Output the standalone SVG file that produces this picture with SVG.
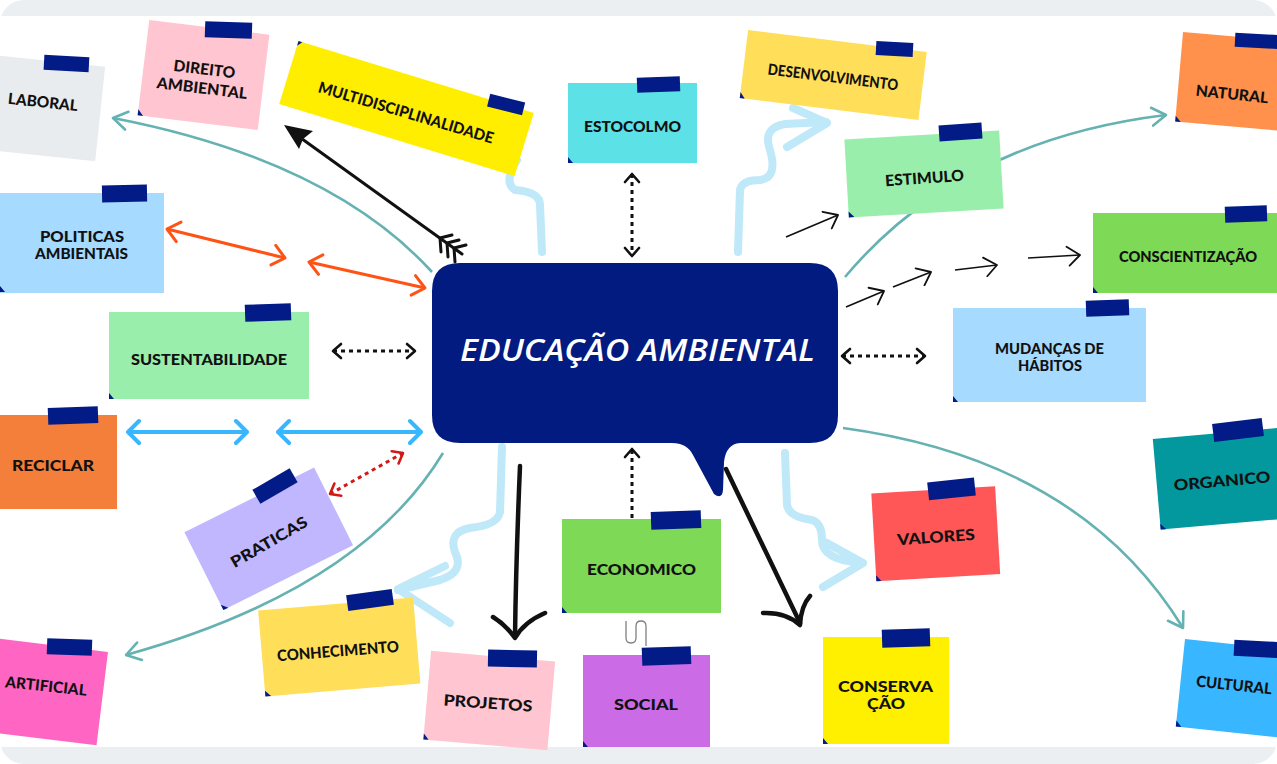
<svg xmlns="http://www.w3.org/2000/svg" width="1277" height="764" viewBox="0 0 1277 764">
<style>
.lbl{font-family:"Lato","Liberation Sans",sans-serif;font-weight:900;font-size:15.5px;fill:#111;text-anchor:middle}
.sm{font-size:14.5px}
.title{font-family:"Open Sans","Liberation Sans",sans-serif;font-style:italic;font-weight:600;font-size:31px;fill:#fff;text-anchor:middle}
.tape{fill:#031B87}
.corner{fill:#031B87}
.teal{fill:none;stroke:#66B2B2;stroke-width:2.6;marker-end:url(#m-teal)}
.orange{fill:none;stroke:#FF5316;stroke-width:3;marker-start:url(#m-or);marker-end:url(#m-or)}
.blue{fill:none;stroke:#38B6FF;stroke-width:4;marker-start:url(#m-bl);marker-end:url(#m-bl)}
.dot{fill:none;stroke:#111;stroke-width:3;stroke-dasharray:4 4}
.reddot{fill:none;stroke:#D41818;stroke-width:3;stroke-dasharray:4 4;marker-start:url(#m-red);marker-end:url(#m-red)}
.thin{fill:none;stroke:#111;stroke-width:1.7;marker-end:url(#m-thin)}
.thick{fill:none;stroke:#111;stroke-width:4.5;stroke-linecap:round;stroke-linejoin:round}
.sq{fill:none;stroke:#BFE8F9;stroke-width:8;stroke-linecap:round;stroke-linejoin:round}
</style>
<defs>
<marker id="m-teal" viewBox="-16 -11 18 22" refX="0" refY="0" markerWidth="18" markerHeight="22" markerUnits="userSpaceOnUse" orient="auto"><path d="M-14,-9 L0,0 L-14,9" fill="none" stroke="#66B2B2" stroke-width="2.6" stroke-linecap="round" stroke-linejoin="round"/></marker>
<marker id="m-or" viewBox="-15 -12 17 24" refX="0" refY="0" markerWidth="17" markerHeight="24" markerUnits="userSpaceOnUse" orient="auto-start-reverse"><path d="M-12,-10 L0,0 L-12,10" fill="none" stroke="#FF5316" stroke-width="3" stroke-linecap="round" stroke-linejoin="round"/></marker>
<marker id="m-bl" viewBox="-15 -14 17 28" refX="0" refY="0" markerWidth="17" markerHeight="28" markerUnits="userSpaceOnUse" orient="auto-start-reverse"><path d="M-11,-11 L0,0 L-11,11" fill="none" stroke="#38B6FF" stroke-width="4" stroke-linecap="round" stroke-linejoin="round"/></marker>
<marker id="m-dot" viewBox="-12 -10 14 20" refX="0" refY="0" markerWidth="14" markerHeight="20" markerUnits="userSpaceOnUse" orient="auto-start-reverse"><path d="M-8,-7 L0,0 L-8,7" fill="none" stroke="#111" stroke-width="2.6" stroke-linecap="round" stroke-linejoin="round"/></marker>
<marker id="m-red" viewBox="-12 -10 14 20" refX="0" refY="0" markerWidth="14" markerHeight="20" markerUnits="userSpaceOnUse" orient="auto-start-reverse"><path d="M-9,-7 L0,0 L-9,7" fill="none" stroke="#D41818" stroke-width="2.6" stroke-linecap="round" stroke-linejoin="round"/></marker>
<marker id="m-thin" viewBox="-16 -11 18 22" refX="0" refY="0" markerWidth="18" markerHeight="22" markerUnits="userSpaceOnUse" orient="auto"><path d="M-13,-9 L0,0 L-11,10" fill="none" stroke="#111" stroke-width="1.8" stroke-linecap="round" stroke-linejoin="round"/></marker>
</defs>

<rect x="0" y="0" width="1277" height="764" fill="#fff"/>
<rect x="0" y="0" width="1277" height="764" rx="24" fill="#ECEFF2"/>
<rect x="0" y="16" width="1277" height="731" fill="#fff"/>

<g id="connectors">
  <path class="teal" d="M432,272 Q330,160 113,118"/>
  <path class="teal" d="M443,453 Q360,590 126,655"/>
  <path class="teal" d="M845,277 Q960,140 1166,115"/>
  <path class="teal" d="M843,428 Q1080,460 1183,628"/>
  <path class="sq" d="M517,160 Q503,182 515,190 Q540,192 540,205 L542,252"/>
  <path class="sq" d="M738,252 L740,190 Q742,180 760,180 Q778,178 770,150 Q762,128 785,124 L826,122"/>
  <path class="sq" d="M793,108 L827,123 L787,147" stroke-width="7"/>
  <path class="sq" d="M502,447 L500,512 Q498,525 470,528 Q448,532 455,552 Q465,572 440,580 L398,590"/>
  <path class="sq" d="M445,566 L398,589 L450,623" stroke-width="7"/>
  <path class="sq" d="M785,453 L787,505 Q789,517 812,520 Q822,523 822,540 Q822,560 862,563"/>
  <path class="sq" d="M827,543 L863,563 L823,587" stroke-width="7"/>
  <g fill="none" stroke="#111" stroke-width="3" stroke-linecap="round">
    <path d="M462,254 L298,136"/>
    <path d="M440,238 L441,252 M440,238 L452,235 M447,243 L448,257 M447,243 L459,240 M454,248 L455,262 M454,248 L466,245"/>
  </g>
  <path d="M284,125 L313,131 L303,139 L299,149 Z" fill="#111"/>
  <path class="orange" d="M167,229 L285,258"/>
  <path class="orange" d="M309,262 L425,288"/>
  <path class="blue" d="M128,432 L247,432"/>
  <path class="blue" d="M278,432 L421,432"/>
  <path class="dot" d="M333,351 L415,351" marker-start="url(#m-dot)" marker-end="url(#m-dot)"/>
  <path class="dot" d="M842,356 L925,356" marker-start="url(#m-dot)" marker-end="url(#m-dot)"/>
  <path class="dot" d="M632,174 L632,256" marker-start="url(#m-dot)" marker-end="url(#m-dot)"/>
  <path class="dot" d="M632,518 L632,449" marker-end="url(#m-dot)"/>
  <path class="reddot" d="M330,494 L403,453"/>
  <path class="thin" d="M786,237 L838,215"/>
  <path class="thin" d="M846,307 L884,291"/>
  <path class="thin" d="M893,287 L931,272"/>
  <path class="thin" d="M955,270 L997,265"/>
  <path class="thin" d="M1028,258 L1080,255"/>
  <path class="thick" d="M520,466 Q516,560 515,637"/>
  <path class="thick" d="M493,617 Q506,625 515,638 Q524,622 545,613"/>
  <path class="thick" d="M726,469 L800,623"/>
  <path class="thick" d="M763,613 Q786,612 800,625 Q801,606 810,596"/>
  <path d="M626,621 L626,638 Q626,643 631,643 Q636,643 636,638 L636,626 Q636,621 641,621 Q646,621 646,626 L646,646" fill="none" stroke="#808080" stroke-width="1.3"/>
</g>

<g id="n-laboral">
  <g transform="translate(43 108) rotate(6)"><rect x="-57.5" y="-47.5" width="115" height="95" fill="#E9ECEF"/></g>
  <rect class="tape" x="44" y="56" width="45" height="15" transform="rotate(3 66 63)"/>
  <text class="lbl" transform="translate(43 102) rotate(6)" y="5.5" textLength="70" lengthAdjust="spacingAndGlyphs">LABORAL</text>
</g>
<g id="n-direito">
  <g transform="translate(203.5 75) rotate(7)"><rect x="-60.5" y="-48" width="121" height="96" fill="#FFC5D0"/><path class="corner" d="M-60.5,42 L-60.5,48 L-55,48 Z"/></g>
  <rect class="tape" x="205" y="22" width="47" height="16" transform="rotate(2 228 30)"/>
  <text class="lbl" transform="translate(204.5 69) rotate(7)" y="5.5" textLength="62" lengthAdjust="spacingAndGlyphs">DIREITO</text>
  <text class="lbl" transform="translate(202 88) rotate(7)" y="5.5" textLength="91" lengthAdjust="spacingAndGlyphs">AMBIENTAL</text>
</g>
<g id="n-multi">
  <g transform="translate(406.5 108.5) rotate(17)"><rect x="-123" y="-33" width="246" height="66" fill="#FFEE00"/><path class="corner" d="M-123,-33 L-123,-28 L-119,-33 Z"/></g>
  <rect class="tape" x="488" y="98" width="36" height="13" transform="rotate(14 506 105)"/>
  <text class="lbl" transform="translate(406 112.5) rotate(16.5)" y="5.5" textLength="182" lengthAdjust="spacingAndGlyphs">MULTIDISCIPLINALIDADE</text>
</g>
<g id="n-estocolmo">
  <rect x="568" y="83" width="129" height="80" fill="#5CE1E6"/><path class="corner" d="M568,157 L568,163 L573,163 Z"/>
  <rect class="tape" x="637" y="77" width="43" height="15" transform="rotate(-2 658 84)"/>
  <text class="lbl" x="632.5" y="131.5" textLength="97" lengthAdjust="spacingAndGlyphs">ESTOCOLMO</text>
</g>
<g id="n-desenvolvimento">
  <g transform="translate(833.25 75) rotate(7)"><rect x="-90" y="-34.3" width="180" height="68.6" fill="#FFDE59"/><path class="corner" d="M-90,28.3 L-90,34.3 L-85,34.3 Z"/></g>
  <rect class="tape" x="876" y="42" width="37" height="14" transform="rotate(3 894 49)"/>
  <text class="lbl" transform="translate(833 77) rotate(7)" y="5.5" textLength="131" lengthAdjust="spacingAndGlyphs">DESENVOLVIMENTO</text>
</g>
<g id="n-estimulo">
  <g transform="translate(924 174) rotate(-3.3)"><rect x="-77.5" y="-39" width="155" height="78" fill="#98EEAA"/><path class="corner" d="M-77.5,33 L-77.5,39 L-72,39 Z"/></g>
  <rect class="tape" x="939" y="124" width="43" height="16" transform="rotate(-4 960 132)"/>
  <text class="lbl" transform="translate(924.5 178) rotate(-4)" y="5.5" textLength="79" lengthAdjust="spacingAndGlyphs">ESTIMULO</text>
</g>
<g id="n-natural">
  <g transform="translate(1236.4 81.8) rotate(5)"><rect x="-57.5" y="-45" width="115" height="90" fill="#FF914D"/><path class="corner" d="M-57.5,39 L-57.5,45 L-52,45 Z"/></g>
  <rect class="tape" x="1235" y="34" width="48" height="14" transform="rotate(3 1259 41)"/>
  <text class="lbl" transform="translate(1232 94) rotate(6)" y="5.5" textLength="73" lengthAdjust="spacingAndGlyphs">NATURAL</text>
</g>
<g id="n-conscientizacao">
  <rect x="1093" y="213" width="190" height="80" fill="#7ED957"/><path class="corner" d="M1093,287 L1093,293 L1098,293 Z"/>
  <rect class="tape" x="1225" y="206" width="42" height="16" transform="rotate(-2 1246 214)"/>
  <text class="lbl" x="1188" y="261.5" textLength="138" lengthAdjust="spacingAndGlyphs">CONSCIENTIZAÇÃO</text>
</g>
<g id="n-politicas">
  <rect x="-6" y="193" width="170" height="100" fill="#A6DAFF"/><path class="corner" d="M0,286 L0,292 L5,292 Z"/>
  <rect class="tape" x="102" y="185" width="45" height="17" transform="rotate(-1 124 193)"/>
  <text class="lbl sm" x="82" y="241.5" textLength="84" lengthAdjust="spacingAndGlyphs">POLITICAS</text>
  <text class="lbl sm" x="81.5" y="258.5" textLength="93" lengthAdjust="spacingAndGlyphs">AMBIENTAIS</text>
</g>
<g id="n-sustentabilidade">
  <rect x="109" y="312" width="200" height="87" fill="#98EEAA"/><path class="corner" d="M109,393 L109,399 L114,399 Z"/>
  <rect class="tape" x="245" y="304" width="46" height="17" transform="rotate(-2 268 312)"/>
  <text class="lbl" x="209" y="364.5" textLength="156" lengthAdjust="spacingAndGlyphs">SUSTENTABILIDADE</text>
</g>
<g id="n-reciclar">
  <rect x="-7" y="415" width="124" height="94" fill="#F47F3B"/>
  <rect class="tape" x="48" y="407" width="50" height="17" transform="rotate(-2 73 415)"/>
  <text class="lbl" x="53" y="471" textLength="82" lengthAdjust="spacingAndGlyphs">RECICLAR</text>
</g>
<g id="n-mudancas">
  <rect x="953" y="308" width="193" height="94" fill="#A6DAFF"/><path class="corner" d="M953,396 L953,402 L958,402 Z"/>
  <rect class="tape" x="1086" y="300" width="43" height="16" transform="rotate(-2 1107 308)"/>
  <text class="lbl sm" x="1049.5" y="354" textLength="109" lengthAdjust="spacingAndGlyphs">MUDANÇAS DE</text>
  <text class="lbl sm" x="1050" y="371" textLength="64" lengthAdjust="spacingAndGlyphs">HÁBITOS</text>
</g>
<g id="n-organico">
  <g transform="translate(1224 478.4) rotate(-5)"><rect x="-67.5" y="-45.5" width="135" height="91" fill="#03989E"/><path class="corner" d="M-67.5,39.5 L-67.5,45.5 L-62,45.5 Z"/></g>
  <rect class="tape" x="1213" y="421" width="50" height="18" transform="rotate(-7 1238 430)"/>
  <text class="lbl" transform="translate(1222 481) rotate(-5)" y="5.5" textLength="97" lengthAdjust="spacingAndGlyphs">ORGANICO</text>
</g>
<g id="n-praticas">
  <g transform="translate(268.75 538.75) rotate(-26.6)"><rect x="-72.5" y="-43.5" width="145" height="87" fill="#C0B7FF"/><path class="corner" d="M-72.5,37.5 L-72.5,43.5 L-67,43.5 Z"/></g>
  <rect class="tape" x="253.5" y="478" width="43" height="16" transform="rotate(-30 275 486)"/>
  <text class="lbl" transform="translate(269 542) rotate(-30)" y="5.5" textLength="86" lengthAdjust="spacingAndGlyphs">PRATICAS</text>
</g>
<g id="n-conhecimento">
  <g transform="translate(339.25 647) rotate(-4.8)"><rect x="-77.75" y="-43.25" width="155.5" height="86.5" fill="#FFDE59"/><path class="corner" d="M-77.75,37.25 L-77.75,43.25 L-72,43.25 Z"/></g>
  <rect class="tape" x="347" y="592" width="46" height="16" transform="rotate(-8 370 600)"/>
  <text class="lbl" transform="translate(338 651) rotate(-4.5)" y="5.5" textLength="122" lengthAdjust="spacingAndGlyphs">CONHECIMENTO</text>
</g>
<g id="n-artificial">
  <g transform="translate(42.7 691.4) rotate(7)"><rect x="-60" y="-47" width="120" height="94" fill="#FF66C4"/></g>
  <rect class="tape" x="47" y="639" width="45" height="16" transform="rotate(2 69 647)"/>
  <text class="lbl" transform="translate(46 686) rotate(6)" y="5.5" textLength="82" lengthAdjust="spacingAndGlyphs">ARTIFICIAL</text>
</g>
<g id="n-economico">
  <rect x="562" y="519" width="159" height="94" fill="#7ED957"/><path class="corner" d="M562,607 L562,613 L567,613 Z"/>
  <rect class="tape" x="651" y="511" width="50" height="18" transform="rotate(-2 676 520)"/>
  <text class="lbl" x="641.5" y="575" textLength="109" lengthAdjust="spacingAndGlyphs">ECONOMICO</text>
</g>
<g id="n-projetos">
  <g transform="translate(489.25 700.5) rotate(5)"><rect x="-62.25" y="-44.5" width="124.5" height="89" fill="#FFC5D0"/><path class="corner" d="M-62.25,38.5 L-62.25,44.5 L-57,44.5 Z"/></g>
  <rect class="tape" x="488" y="650" width="49" height="17" transform="rotate(1 512 658)"/>
  <text class="lbl" transform="translate(488 703) rotate(4)" y="5.5" textLength="89" lengthAdjust="spacingAndGlyphs">PROJETOS</text>
</g>
<g id="n-social">
  <rect x="583" y="655" width="127" height="92" fill="#CB6CE6"/><path class="corner" d="M583,741 L583,747 L588,747 Z"/>
  <rect class="tape" x="642" y="647" width="49" height="18" transform="rotate(-2 666 656)"/>
  <text class="lbl" x="646" y="709.5" textLength="64" lengthAdjust="spacingAndGlyphs">SOCIAL</text>
</g>
<g id="n-conservacao">
  <rect x="823" y="637" width="126" height="107" fill="#FFF000"/><path class="corner" d="M823,738 L823,744 L828,744 Z"/>
  <rect class="tape" x="882" y="629" width="48" height="18" transform="rotate(-2 906 638)"/>
  <text class="lbl" x="885.5" y="691.5" textLength="95" lengthAdjust="spacingAndGlyphs">CONSERVA</text>
  <text class="lbl" x="886" y="708.5" textLength="38" lengthAdjust="spacingAndGlyphs">ÇÃO</text>
</g>
<g id="n-valores">
  <g transform="translate(935.75 533.75) rotate(-3.3)"><rect x="-62" y="-44" width="124" height="88" fill="#FF5757"/><path class="corner" d="M-62,38 L-62,44 L-57,44 Z"/></g>
  <rect class="tape" x="928" y="480" width="47" height="18" transform="rotate(-6 951 489)"/>
  <text class="lbl" transform="translate(936 537) rotate(-4)" y="5.5" textLength="78" lengthAdjust="spacingAndGlyphs">VALORES</text>
</g>
<g id="n-cultural">
  <g transform="translate(1237.6 688.8) rotate(6)"><rect x="-57.5" y="-44" width="115" height="88" fill="#38B6FF"/><path class="corner" d="M-57.5,38 L-57.5,44 L-52,44 Z"/></g>
  <rect class="tape" x="1234" y="641" width="48" height="16" transform="rotate(3 1258 649)"/>
  <text class="lbl" transform="translate(1234 685) rotate(6)" y="5.5" textLength="76" lengthAdjust="spacingAndGlyphs">CULTURAL</text>
</g>

<g id="n-center">
  <path d="M460,263 H810 Q838,263 838,291 V415 Q838,443 810,443 H740 Q726,444 724,462 L723,490 Q722,500 714,494 L693,455 Q687,443 672,443 H460 Q432,443 432,415 V291 Q432,263 460,263 Z" fill="#021B81"/>
  <text class="title" x="637.5" y="361" textLength="355" lengthAdjust="spacingAndGlyphs">EDUCAÇÃO AMBIENTAL</text>
</g>
</svg>
